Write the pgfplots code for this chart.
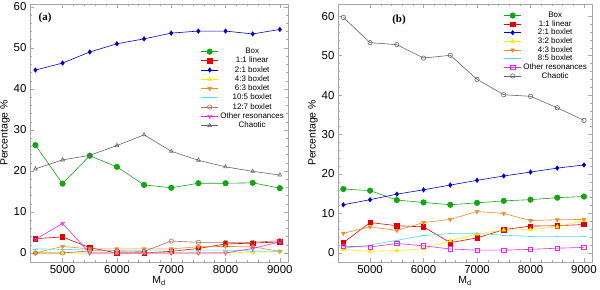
\documentclass[border=0pt]{standalone}
\usepackage{pgfplots}
\pgfplotsset{compat=1.18}
\usepackage{fontspec}
\setmainfont{Liberation Sans}
\newfontfamily\seriffont{Liberation Serif}
\definecolor{cgreen}{RGB}{20,165,20}
\definecolor{cred}{RGB}{230,0,0}
\definecolor{cblue}{RGB}{0,0,200}
\definecolor{cyellow}{RGB}{250,235,0}
\definecolor{corange}{RGB}{240,140,40}
\definecolor{ccyan}{RGB}{80,220,240}
\definecolor{cbrown}{RGB}{170,110,90}
\definecolor{cmag}{RGB}{230,40,230}
\definecolor{cgray}{RGB}{100,100,100}
\pgfplotsset{
  myax/.style={
    scale only axis,
    width=258bp, height=258bp,
    xmin=4400, xmax=9150,
    xtick={5000,6000,7000,8000,9000},
    minor x tick num=4,
    minor y tick num=4,
    ytick={0,10,20,30,40,50,60},
    tick align=inside,
    ticklabel style={font=\fontsize{11.5}{13}\selectfont, text=black},
    /pgf/number format/assume math mode=true,
    /pgf/number format/set thousands separator={},
    axis line style={gray!70},
    tick style={gray!70, line width=0.4pt},
    major tick length=4bp, minor tick length=2bp,
    xlabel={M\textsubscript{d}},
    ylabel={Percentage \%},
    label style={font=\fontsize{10.5}{12}\selectfont},
    xlabel style={yshift=4bp},
    ylabel style={yshift=-3bp},
    legend style={draw=none, fill=none, font=\fontsize{8}{9}\selectfont, row sep=-2bp},
    legend cell align=center,
    every axis plot/.append style={line width=0.6pt, mark size=2.2bp},
  }
}
\begin{document}
\begin{tikzpicture}
\useasboundingbox (0bp,0bp) rectangle (600bp,290bp);
% Panel (a)
\begin{axis}[myax, at={(30bp,28bp)}, anchor=south west, ymin=-2.2, ymax=60.7,
  legend style={at={(0.65,0.845)}, anchor=north west}]
\addplot[cgreen, mark=*, mark options={fill=cgreen, scale=1.25}] coordinates {(4500,26.3)(5000,16.9)(5500,23.7)(6000,21.0)(6500,16.6)(7000,15.9)(7500,17.0)(8000,17.0)(8500,17.1)(9000,15.8)};
\addlegendentry{Box}
\addplot[cred, mark=square*, mark options={fill=cred}] coordinates {(4500,3.5)(5000,3.9)(5500,1.3)(6000,0)(6500,0)(7000,0.4)(7500,1.1)(8000,2.2)(8500,2.4)(9000,2.7)};
\addlegendentry{1:1 linear}
\addplot[cblue, mark=diamond*, mark options={fill=cblue}] coordinates {(4500,44.6)(5000,46.3)(5500,49.0)(6000,51.0)(6500,52.2)(7000,53.6)(7500,54.1)(8000,54.1)(8500,53.4)(9000,54.5)};
\addlegendentry{2:1 boxlet}
\addplot[cyellow, mark=triangle*, mark options={fill=cyellow}] coordinates {(4500,0)(5000,0)(5500,0)(6000,0)(6500,0)(7000,0)(7500,0)(8000,0.1)(8500,0.2)(9000,0.3)};
\addlegendentry{4:3 boxlet}
\addplot[corange, mark=triangle*, mark options={fill=corange, rotate=180}] coordinates {(4500,0)(5000,1.6)(5500,1.0)(6000,1.0)(6500,1.0)(7000,1.0)(7500,1.5)(8000,1.6)(8500,1.5)(9000,0.4)};
\addlegendentry{6:3 boxlet}
\addplot[ccyan, mark=-, mark options={ccyan}] coordinates {(4500,1.0)(5000,0.9)(5500,0.7)(6000,0.7)(6500,0.7)(7000,0.7)(7500,0.7)(8000,0.7)(8500,0.5)(9000,0.4)};
\addlegendentry{10:5 boxlet}
\addplot[cbrown, mark=o, mark options={fill=white}] coordinates {(4500,0)(5000,0)(5500,0.5)(6000,0.5)(6500,0.4)(7000,2.9)(7500,2.6)(8000,2.6)(8500,2.6)(9000,3.0)};
\addlegendentry{12:7 boxlet}
\addplot[cmag, mark=triangle, mark options={rotate=180}] coordinates {(4500,3.3)(5000,7.2)(5500,0)(6000,0)(6500,0)(7000,0)(7500,0)(8000,0)(8500,1.1)(9000,2.7)};
\addlegendentry{Other resonances}
\addplot[cgray, mark=triangle] coordinates {(4500,20.5)(5000,22.7)(5500,23.8)(6000,26.2)(6500,28.8)(7000,24.8)(7500,22.6)(8000,21.0)(8500,19.9)(9000,19.0)};
\addlegendentry{Chaotic}
\node[anchor=north west, font=\seriffont\bfseries\fontsize{11}{13}\selectfont] at (rel axis cs:0.02,0.98) {(a)};
\end{axis}
% Panel (b)
\begin{axis}[myax, width=254bp, at={(338bp,28bp)}, anchor=south west, ymin=-2.3, ymax=63.1,
  legend style={at={(1.0,0.985)}, anchor=north east, row sep=-2.6bp}]
\addplot[cgreen, mark=*, mark options={fill=cgreen, scale=1.25}] coordinates {(4500,16.2)(5000,15.8)(5500,13.4)(6000,12.8)(6500,12.2)(7000,12.7)(7500,13.2)(8000,13.5)(8500,14.0)(9000,14.3)};
\addlegendentry{Box}
\addplot[cred, mark=square*, mark options={fill=cred}] coordinates {(4500,2.6)(5000,7.7)(5500,6.9)(6000,6.6)(6500,2.6)(7000,3.8)(7500,5.9)(8000,6.8)(8500,6.9)(9000,7.2)};
\addlegendentry{1:1 linear}
\addplot[cblue, mark=diamond*, mark options={fill=cblue}] coordinates {(4500,12.2)(5000,13.5)(5500,14.9)(6000,16.0)(6500,17.2)(7000,18.4)(7500,19.5)(8000,20.5)(8500,21.5)(9000,22.3)};
\addlegendentry{2:1 boxlet}
\addplot[cyellow, mark=triangle*, mark options={fill=cyellow}] coordinates {(4500,0.9)(5000,0.4)(5500,0.6)(6000,1.0)(6500,3.1)(7000,4.8)(7500,5.8)(8000,5.9)(8500,6.6)(9000,8.3)};
\addlegendentry{3:2 boxlet}
\addplot[corange, mark=triangle*, mark options={fill=corange, rotate=180}] coordinates {(4500,5.0)(5000,6.6)(5500,5.7)(6000,7.7)(6500,8.5)(7000,10.5)(7500,10.0)(8000,8.2)(8500,8.4)(9000,8.5)};
\addlegendentry{4:3 boxlet}
\addplot[ccyan, mark=-, mark options={ccyan}] coordinates {(4500,1.2)(5000,2.0)(5500,3.2)(6000,4.4)(6500,4.9)(7000,4.9)(7500,4.5)(8000,4.2)(8500,4.2)(9000,4.2)};
\addlegendentry{8:5 boxlet}
\addplot[cmag, mark=square, mark options={fill=white}] coordinates {(4500,1.7)(5000,1.5)(5500,2.4)(6000,1.8)(6500,1.0)(7000,0.7)(7500,0.7)(8000,0.9)(8500,1.2)(9000,1.4)};
\addlegendentry{Other resonances}
\addplot[cgray, mark=o] coordinates {(4500,59.7)(5000,53.3)(5500,52.8)(6000,49.4)(6500,50.1)(7000,44.0)(7500,40.1)(8000,39.7)(8500,36.8)(9000,33.6)};
\addlegendentry{Chaotic}
\node[anchor=north west, font=\seriffont\bfseries\fontsize{11}{13}\selectfont] at (rel axis cs:0.2,0.97) {(b)};
\end{axis}
\end{tikzpicture}
\end{document}
